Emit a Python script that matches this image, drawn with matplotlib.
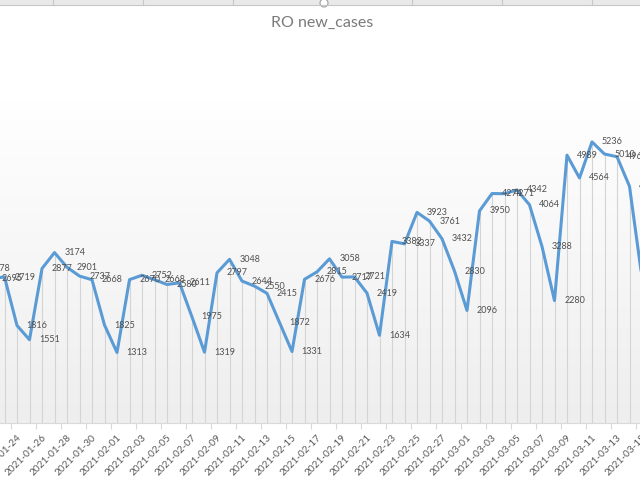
import numpy as np
import pandas as pd
import matplotlib
matplotlib.use('Agg')
import matplotlib.pyplot as plt
from matplotlib.colors import LinearSegmentedColormap
from matplotlib.patches import Rectangle, Circle
from matplotlib.lines import Line2D

# daily new cases, Romania (chart is cropped on both sides)
start_date = '2021-01-21'
new_cases = [2878, 2695, 2719, 1816, 1551, 2877, 3174, 2901, 2737, 2668,
             1825, 1313, 2670, 2752, 2668, 2580, 2611, 1975, 1319, 2797,
             3048, 2644, 2550, 2415, 1872, 1331, 2676, 2815, 3058, 2717,
             2721, 2419, 1634, 3382, 3337, 3923, 3761, 3432, 2830, 2096,
             3950, 4274, 4271, 4342, 4064, 3288, 2280, 4989, 4564, 5236,
             5010, 4960, 4408, 2700]
dates = pd.date_range(start_date, periods=len(new_cases)).strftime('%Y-%m-%d')

plt.rcParams['font.family'] = ['Lato', 'DejaVu Sans']

fig = plt.figure(figsize=(6.4, 4.8), dpi=100)
ax = fig.add_axes([0, 0.1188, 1, 0.671])

k = np.arange(len(new_cases)) - 2
xlim = (-0.36, 50.84)
ymax = 6000

# plot area gradient, white at top to light grey at the axis
cmap = LinearSegmentedColormap.from_list('bg', ['#eeeeee', '#ffffff'])
grad = np.tile(np.linspace(0, 1, 256).reshape(-1, 1), (1, 8))
ax.imshow(grad, cmap=cmap, origin='lower', interpolation='bilinear',
          extent=[-3, 53, 0, ymax], aspect='auto', zorder=0)

# drop lines
ax.vlines(k, 0, new_cases, color='#d4d4d4', lw=0.8, zorder=1)

ax.plot(k, new_cases, color='#5b9bd5', lw=2.2, solid_joinstyle='round',
        solid_capstyle='round', zorder=3)

for x, v in zip(k, new_cases):
    ax.annotate(str(v), (x, v), xytext=(7, 0), textcoords='offset points',
                ha='left', va='center', fontsize=6.5, color='#505050',
                annotation_clip=False, zorder=4)

ax.set_yticks([])
for s in ['top', 'left', 'right']:
    ax.spines[s].set_visible(False)
ax.spines['bottom'].set_color('#d9d9d9')
ax.spines['bottom'].set_linewidth(0.8)

ax.set_xticks(k[1::2])
ax.set_xticklabels(dates[1::2], rotation=45, ha='right',
                   rotation_mode='anchor', fontsize=7.2, color='#595959')
ax.set_xticks(np.arange(-1.5, 52, 2), minor=True)
ax.tick_params(axis='x', which='major', length=0, pad=7)
ax.tick_params(axis='x', which='minor', length=4, color='#d9d9d9', width=0.8)

# limits last, set_xticks widens them
ax.set_xlim(*xlim)
ax.set_ylim(0, ymax)

# the label just past the right edge still shows partly
ax.annotate(dates[-1], (k[-1], 0), xytext=(0, -7), textcoords='offset points',
            rotation=45, ha='right', va='top', rotation_mode='anchor',
            fontsize=7.2, color='#595959', annotation_clip=False)

fig.text(0.503, 0.952, 'RO new_cases', ha='center', va='center',
         fontsize=11.5, color='#7a7a7a')

# bits of the spreadsheet header showing above the chart
fig.patches.append(Rectangle((0, 1 - 5 / 480), 1, 5 / 480, transform=fig.transFigure,
                             facecolor='#e9e9e9', edgecolor='none'))
fig.lines.append(Line2D([0, 1], [1 - 5 / 480] * 2, transform=fig.transFigure,
                        color='#c6c6c6', lw=0.8))
for px in [53, 143, 233, 412, 502, 592]:
    fig.lines.append(Line2D([px / 640] * 2, [1 - 5 / 480, 1], transform=fig.transFigure,
                            color='#c6c6c6', lw=0.8))
fig.patches.append(Circle((324, 480 - 3), 4, transform=None, facecolor='white',
                          edgecolor='#a0a0a0', lw=0.8))

fig.savefig('out.png', dpi=100)
